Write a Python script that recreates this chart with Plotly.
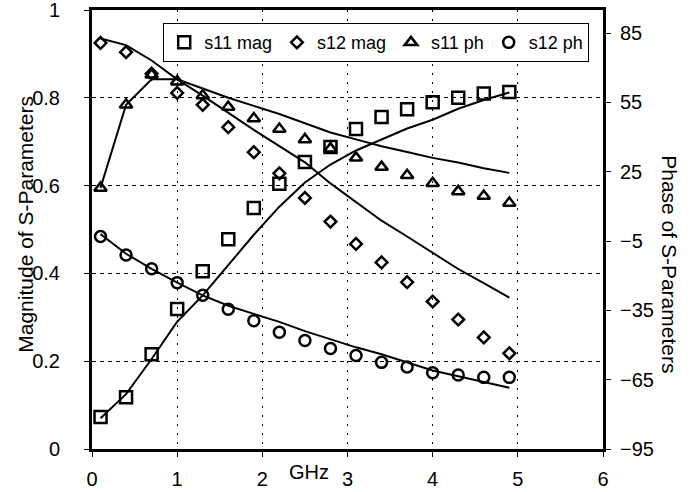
import plotly.graph_objects as go

freq_ghz = [0.1, 0.4, 0.7, 1.0, 1.3, 1.6, 1.9, 2.2, 2.5, 2.8, 3.1, 3.4, 3.7, 4.0, 4.3, 4.6, 4.9]

# measured data (markers)
s11_mag = [0.073, 0.118, 0.216, 0.319, 0.405, 0.478, 0.549, 0.604, 0.654, 0.688, 0.729, 0.756, 0.774, 0.79, 0.80, 0.81, 0.813]
s12_mag = [0.925, 0.904, 0.855, 0.811, 0.784, 0.733, 0.676, 0.628, 0.572, 0.518, 0.467, 0.425, 0.38, 0.336, 0.295, 0.254, 0.218]
s11_ph = [18, 54, 67, 64, 58, 53, 48, 43.5, 39, 35, 31, 27, 23.5, 20, 16.5, 14.5, 11.5]
s12_ph = [-3, -11, -17, -23, -28.5, -34.5, -39.5, -44.5, -48, -51.5, -54.5, -57.5, -59.5, -62, -63, -64, -64]

# model curves (solid lines)
s11_mag_model = [0.07, 0.125, 0.205, 0.29, 0.35, 0.42, 0.488, 0.552, 0.607, 0.648, 0.68, 0.705, 0.73, 0.75, 0.775, 0.795, 0.812]
s12_mag_model = [0.935, 0.92, 0.885, 0.842, 0.805, 0.765, 0.727, 0.69, 0.653, 0.605, 0.563, 0.52, 0.484, 0.447, 0.41, 0.378, 0.345]
s11_ph_model = [18, 54, 65, 65, 61, 57, 53.5, 50, 46, 42, 39, 36, 33.5, 31, 29, 26.5, 24.5]
s12_ph_model = [-2, -10.5, -17, -23, -28.5, -33, -36.5, -40, -44, -47.5, -51, -54, -57.5, -61, -63.5, -66, -68.5]

x_ticks = [0, 1, 2, 3, 4, 5, 6]
y_ticks = [0, 0.2, 0.4, 0.6, 0.8, 1]
y2_ticks = [-95, -65, -35, -5, 25, 55, 85]

FONT = "Liberation Sans, Arial, sans-serif"
FS = 20
FT = 21
fig = go.Figure()

line_style = dict(color="black", width=2)
fig.add_trace(go.Scatter(x=freq_ghz, y=s11_mag_model, mode="lines", line=line_style, showlegend=False, hoverinfo="skip"))
fig.add_trace(go.Scatter(x=freq_ghz, y=s12_mag_model, mode="lines", line=line_style, showlegend=False, hoverinfo="skip"))
fig.add_trace(go.Scatter(x=freq_ghz, y=s11_ph_model, mode="lines", line=line_style, showlegend=False, hoverinfo="skip", yaxis="y2"))
fig.add_trace(go.Scatter(x=freq_ghz, y=s12_ph_model, mode="lines", line=line_style, showlegend=False, hoverinfo="skip", yaxis="y2"))

mk_line = dict(color="black", width=2.5)
fig.add_trace(go.Scatter(x=freq_ghz, y=s11_mag, mode="markers", name="s11 mag",
                         marker=dict(symbol="square-open", size=12, color="black", line=mk_line)))
fig.add_trace(go.Scatter(x=freq_ghz, y=s12_mag, mode="markers", name="s12 mag",
                         marker=dict(symbol="diamond-open", size=9, color="black", line=mk_line)))
fig.add_trace(go.Scatter(x=freq_ghz, y=s11_ph, mode="markers", name="s11 ph", yaxis="y2",
                         marker=dict(symbol="triangle-up-open", size=11, color="black", line=mk_line)))
fig.add_trace(go.Scatter(x=freq_ghz, y=s12_ph, mode="markers", name="s12 ph", yaxis="y2",
                         marker=dict(symbol="circle-open", size=11, color="black", line=mk_line)))

fig.update_layout(
    width=691, height=492,
    margin=dict(l=92, r=88, t=10, b=43),
    paper_bgcolor="white", plot_bgcolor="white",
    font=dict(family=FONT, size=FS, color="black"),
    xaxis=dict(range=[0, 6], tickvals=x_ticks, showgrid=True, griddash="2px,7px", gridcolor="black", gridwidth=1,
               showline=True, linecolor="black", linewidth=3, mirror=True, zeroline=False, automargin=False,
               ticks="outside", ticklen=5, tickcolor="black", tickfont=dict(size=FS), ticklabelstandoff=5,
               ticklabeloverflow="allow"),
    yaxis=dict(range=[0, 1], tickvals=y_ticks, ticktext=["0", "0.2", "0.4", "0.6", "0.8", "1"],
               showgrid=True, griddash="4px,4px", gridcolor="black", gridwidth=1, automargin=False,
               showline=True, linecolor="black", linewidth=3, zeroline=False,
               ticks="outside", ticklen=5, tickcolor="black", tickfont=dict(size=FS), ticklabelstandoff=20,
               ticklabeloverflow="allow"),
    yaxis2=dict(range=[-95, 95], tickvals=y2_ticks, overlaying="y", side="right", showgrid=False,
                showline=True, linecolor="black", linewidth=3, zeroline=False, automargin=False,
                ticks="outside", ticklen=5, tickcolor="black", tickfont=dict(size=FS), ticklabelstandoff=5,
                ticklabeloverflow="allow"),
    legend=dict(orientation="h", x=0.973, xanchor="right", y=0.97, yanchor="top",
                bordercolor="black", borderwidth=1, bgcolor="white",
                font=dict(size=18), itemwidth=30, tracegroupgap=0),
    annotations=[
        dict(text="GHz", xref="x", yref="paper", x=2.545, y=-0.052, showarrow=False,
             xanchor="center", yanchor="middle", font=dict(size=FS)),
        dict(text="Magnitude of S-Parameters", xref="paper", yref="paper", x=-0.129, y=0.511,
             textangle=-90, showarrow=False, xanchor="center", yanchor="middle", font=dict(size=FT)),
        dict(text="Phase of S-Parameters", xref="paper", yref="paper", x=1.130, y=0.42,
             textangle=90, showarrow=False, xanchor="center", yanchor="middle", font=dict(size=FT)),
    ],
)

fig.write_html("out.html")
